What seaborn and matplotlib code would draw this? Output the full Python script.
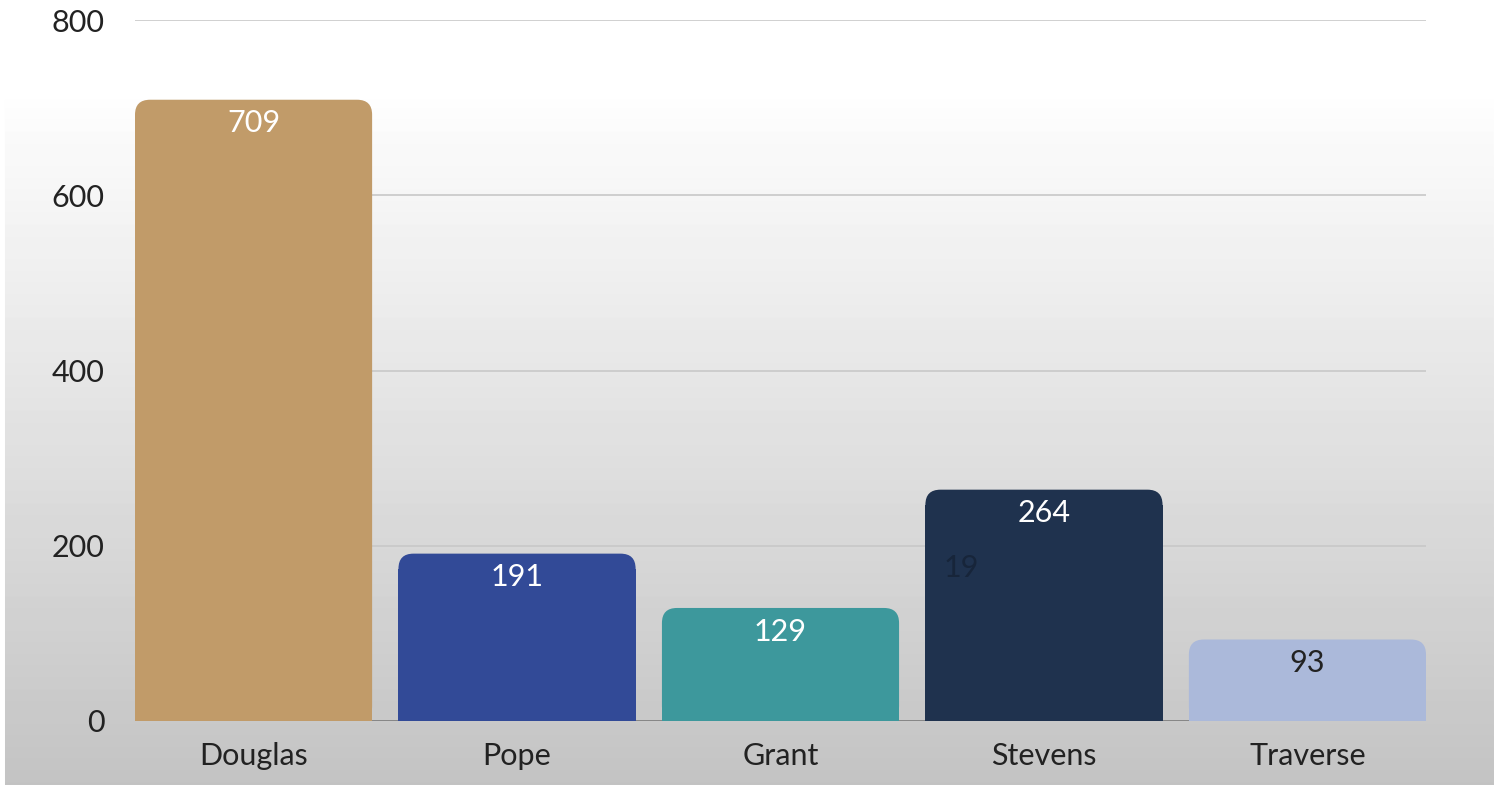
import numpy as np
import pandas as pd
import matplotlib
matplotlib.use("Agg")
import matplotlib.pyplot as plt
import seaborn as sns
from matplotlib.patches import FancyBboxPatch

counties = ["Douglas", "Pope", "Grant", "Stevens", "Traverse"]
values = [709, 191, 129, 264, 93]
bar_colors = ["#c19b69", "#324a97", "#3d989c", "#1f324e", "#abb9da"]
label_colors = ["white", "white", "white", "white", "#222222"]
y_ticks = [0, 200, 400, 600, 800]

sns.set_theme(style="white")
plt.rcParams["font.family"] = ["Lato", "DejaVu Sans"]

W, H = 1501, 787
fig = plt.figure(figsize=(W / 100, H / 100), dpi=100)

# background: white with a grey gradient panel
bg = np.ones((H, W))
top, bottom, left, right = 100, 785, 5, 1494
ramp = np.linspace(0.995, 0.765, bottom - top)
bg[top:bottom, left:right] = ramp[:, None]
bax = fig.add_axes([0, 0, 1, 1], zorder=-1)
bax.imshow(bg, cmap="gray", vmin=0, vmax=1, aspect="auto", interpolation="bilinear")
bax.axis("off")

ax = fig.add_axes([135 / W, (H - 721) / H, (1426 - 135) / W, (721 - 20) / H])
ax.patch.set_alpha(0)

df = pd.DataFrame({"county": counties, "value": values})
width = 0.9
sns.barplot(data=df, x="county", y="value", hue="county", palette=bar_colors,
            width=width, legend=False, ax=ax, zorder=3, saturation=1)

ax.set_xlim(-width / 2, len(counties) - 1 + width / 2)
ax.set_ylim(0, 800)

# rounded tops
ax_w_px = 1426 - 135
ax_h_px = 721 - 20
xu_per_px = (len(counties) - 1 + width) / ax_w_px
yu_per_px = 800 / ax_h_px
r_px = 15
rx = r_px * xu_per_px
aspect = yu_per_px / xu_per_px
for p, c in zip(ax.patches, bar_colors):
    x0, w, h = p.get_x(), p.get_width(), p.get_height()
    p.set_height(max(h - r_px * yu_per_px, 0))
    p.set_linewidth(0)
    fb = FancyBboxPatch((x0, 0), w, h, boxstyle=f"round,pad=0,rounding_size={rx}",
                        mutation_aspect=aspect, facecolor=c, edgecolor="none", zorder=3)
    ax.add_patch(fb)

for i, (v, lc) in enumerate(zip(values, label_colors)):
    ax.text(i, v - 27, str(v), ha="center", va="center", color=lc, fontsize=22, zorder=4)

# stray label seen in the source
ax.text(2.62, 175, "19", ha="left", va="center", color="#17253a", fontsize=22, zorder=4)

ax.set_yticks(y_ticks)
ax.yaxis.grid(True, color="#c8c8c8", linewidth=1.2, zorder=0)
ax.set_axisbelow(True)
ax.axhline(0, color="#7a7a7a", linewidth=1.2, zorder=2)
for s in ax.spines.values():
    s.set_visible(False)
ax.tick_params(axis="both", length=0, labelsize=22, colors="#222222")
ax.tick_params(axis="y", pad=22)
ax.tick_params(axis="x", pad=15)
ax.set_xlabel("")
ax.set_ylabel("")

fig.savefig("out.png", dpi=100)
